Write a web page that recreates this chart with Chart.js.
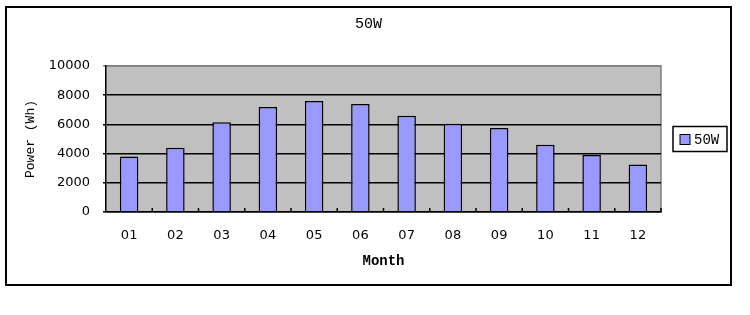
<!DOCTYPE html>
<html>
<head>
  <script src="https://cdn.jsdelivr.net/npm/chart.js"></script>
  <title>50W</title>
  <style>
    html, body { margin: 0; padding: 0; background: #fff; }
    #wrap { width: 750px; height: 315px; }
  </style>
</head>
<body>
  <div id="wrap"><canvas id="chart" width="750" height="315"></canvas></div>

  <script>
    // Chart values
    const months = ['01', '02', '03', '04', '05', '06', '07', '08', '09', '10', '11', '12'];
    const power50W = [3800, 4400, 6150, 7200, 7600, 7400, 6600, 6050, 5750, 4600, 3900, 3250];
    const yTicks = [0, 2000, 4000, 6000, 8000, 10000];

    const monoFont = "'Liberation Mono', 'DejaVu Sans Mono', monospace";
    const sansFont = "'DejaVu Sans', sans-serif";

    // White page, outer frame and grey plot background
    const framePlugin = {
      id: 'frame',
      beforeDraw(chart) {
        const ctx = chart.ctx;
        const a = chart.chartArea;
        ctx.save();
        ctx.fillStyle = '#fff';
        ctx.fillRect(0, 0, chart.width, chart.height);
        ctx.strokeStyle = '#000';
        ctx.lineWidth = 2;
        ctx.strokeRect(6, 7, 725, 278);
        ctx.fillStyle = '#c0c0c0';
        ctx.fillRect(a.left, a.top, a.right - a.left, a.bottom - a.top);
        ctx.strokeStyle = '#808080';
        ctx.lineWidth = 1.5;
        ctx.beginPath();
        ctx.moveTo(a.left, a.top);
        ctx.lineTo(a.right, a.top);
        ctx.lineTo(a.right, a.bottom);
        ctx.stroke();
        ctx.restore();
      },
      afterDatasetsDraw(chart) {
        // small inward tick marks between categories on the x axis
        const ctx = chart.ctx;
        const x = chart.scales.x;
        const bottom = chart.chartArea.bottom;
        ctx.save();
        ctx.strokeStyle = '#000';
        ctx.lineWidth = 1.5;
        for (let i = 1; i <= months.length; i++) {
          const px = i < months.length
            ? (x.getPixelForValue(i - 1) + x.getPixelForValue(i)) / 2
            : chart.chartArea.right;
          ctx.beginPath();
          ctx.moveTo(px, bottom);
          ctx.lineTo(px, bottom - 4);
          ctx.stroke();
        }
        ctx.restore();
      },
      afterDraw(chart) {
        // boxed legend to the right of the plot
        const ctx = chart.ctx;
        const a = chart.chartArea;
        const ds = chart.data.datasets[0];
        const left = a.right + 12;
        const cy = (a.top + a.bottom) / 2;
        ctx.save();
        ctx.fillStyle = '#fff';
        ctx.fillRect(left, cy - 12.5, 54, 25);
        ctx.strokeStyle = '#000';
        ctx.lineWidth = 1.5;
        ctx.strokeRect(left, cy - 12.5, 54, 25);
        ctx.fillStyle = ds.backgroundColor;
        ctx.fillRect(left + 7, cy - 4.5, 10, 10);
        ctx.lineWidth = 1;
        ctx.strokeRect(left + 7, cy - 4.5, 10, 10);
        ctx.fillStyle = '#000';
        ctx.font = '14px ' + monoFont;
        ctx.textBaseline = 'middle';
        ctx.fillText(ds.label, left + 21, cy + 1);
        ctx.restore();
      }
    };

    new Chart(document.getElementById('chart').getContext('2d'), {
      type: 'bar',
      data: {
        labels: months,
        datasets: [{
          label: '50W',
          data: power50W,
          backgroundColor: '#9999ff',
          borderColor: '#000',
          borderWidth: 1.5,
          categoryPercentage: 1,
          barPercentage: 0.4
        }]
      },
      options: {
        responsive: false,
        animation: false,
        layout: { padding: { left: 6, right: 19, top: 0, bottom: 0 } },
        plugins: {
          legend: { display: false },
          tooltip: { enabled: false },
          title: {
            display: true,
            text: '50W',
            color: '#000',
            font: { family: monoFont, size: 15, weight: 'normal' },
            padding: { top: 15.5, bottom: 32.5 }
          }
        },
        scales: {
          x: {
            afterFit: s => { s.height = 103; },
            grid: { display: false, drawTicks: false },
            border: { color: '#000', width: 1.5 },
            ticks: { color: '#000', padding: 16, font: { family: sansFont, size: 13 } },
            title: {
              display: true,
              text: 'Month',
              color: '#000',
              font: { family: monoFont, size: 14, weight: 'bold' },
              padding: { top: 0, bottom: 45 }
            }
          },
          y: {
            min: 0,
            max: 10000,
            afterFit: s => { s.width = 100; },
            afterBuildTicks: s => { s.ticks = yTicks.map(v => ({ value: v })); },
            grid: {
              color: c => (c.tick && c.tick.value === 10000 ? '#808080' : '#000'),
              lineWidth: 1.5,
              tickLength: 3
            },
            border: { color: '#000', width: 1.5 },
            ticks: {
              color: '#000',
              padding: 13,
              font: { family: sansFont, size: 13 },
              callback: v => String(v)
            },
            title: {
              display: true,
              text: 'Power (Wh)',
              color: '#000',
              font: { family: monoFont, size: 13, weight: 'normal' },
              padding: { top: 17, bottom: 0 }
            }
          },
          yRight: {
            position: 'right',
            display: true,
            afterFit: s => { s.width = 70; },
            grid: { display: false, drawTicks: false },
            border: { display: false },
            ticks: { display: false }
          }
        }
      },
      plugins: [framePlugin]
    });
  </script>
</body>
</html>
